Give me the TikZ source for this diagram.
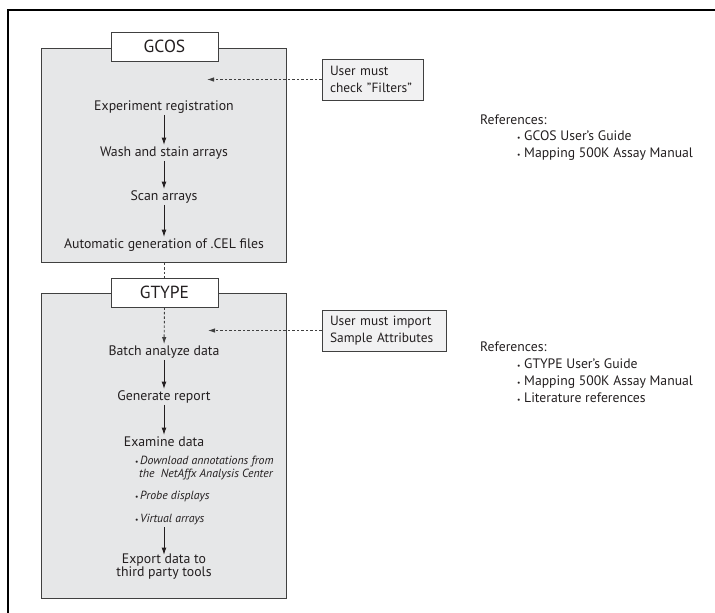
\documentclass[tikz,border=0pt]{standalone}
\usepackage{fontspec}
\setmainfont{PT Sans}
\usetikzlibrary{arrows.meta}
\definecolor{boxgray}{HTML}{E6E7E8}
\definecolor{notegray}{HTML}{F1F1F2}
\definecolor{edgegray}{HTML}{404040}
\definecolor{ink}{HTML}{231F20}
\begin{document}
\begin{tikzpicture}[x=1pt,y=-1pt,
  panel/.style={draw=edgegray, fill=boxgray, line width=0.9pt, anchor=north west, inner sep=0pt},
  tabbox/.style={draw=edgegray, fill=white, line width=0.9pt, minimum width=107pt, minimum height=29pt, inner sep=0pt, font=\fontsize{17.5}{19}\selectfont, text=ink},
  notebox/.style={draw=edgegray, fill=notegray, line width=0.9pt, minimum height=41pt, inner xsep=8pt, inner ysep=0pt, align=left, font=\fontsize{13.4}{17}\selectfont, text=ink},
  steptext/.style={font=\fontsize{13.8}{13.5}\selectfont, text=ink, inner xsep=0pt, inner ysep=1.5pt, text height=9.5pt, text depth=3pt, align=center},
  itext/.style={font=\fontsize{11.8}{12}\selectfont\itshape, text=ink, inner sep=0pt, anchor=base west},
  reftext/.style={font=\fontsize{13.7}{14}\selectfont, text=ink, inner sep=0pt, anchor=base west},
  bul/.style={font=\fontsize{7.5}{8}\selectfont, text=ink, inner sep=0pt, anchor=base west},
  flow/.style={-{Latex[length=7.5pt,width=5pt]}, line width=1pt, draw=ink},
  dashlink/.style={line width=0.9pt, draw=edgegray, dash pattern=on 2.5pt off 2pt},
  dasharrow/.style={dashlink, -{Latex[length=7pt,width=4.5pt]}}
]
\useasboundingbox (0,0) rectangle (715,613);
% outer frame
\coordinate (frameBL) at (8,613);
\coordinate (frameTL) at (8,10);
\coordinate (frameTR) at (715,10);
\draw[line width=2pt, draw=black] (frameBL) -- (frameTL) -- (frameTR);

% GCOS panel
\node[panel, minimum width=245pt, minimum height=214pt] (gcosbox) at (41,48) {};
\node[tabbox] (gcoslabel) at (164.5,46.5) {GCOS};
\node[steptext] (exp) at (164,107) {Experiment registration};
\node[steptext] (wash) at (164,153) {Wash and stain arrays};
\node[steptext] (scan) at (164,197) {Scan arrays};
\node[steptext] (autogen) at (164,245) {Automatic generation of .CEL files};
\draw[flow] (exp) -- (wash);
\draw[flow] (wash) -- (scan);
\draw[flow] (scan) -- (autogen);

\node[notebox, text width=85pt] (note1) at (372.5,79.5) {User must\\check "Filters"};
\coordinate (gcosin) at (207,79.5);
\draw[dasharrow] (note1.west) -- (gcosin);

\node[reftext] (ref1) at (480,124) {References:};
\node[bul] (r1b1) at (517,140) {•};
\node[reftext] (r1t1) at (524,140) {GCOS User's Guide};
\node[bul] (r1b2) at (517,157) {•};
\node[reftext] (r1t2) at (524,157) {Mapping 500K Assay Manual};

% GTYPE panel
\node[panel, minimum width=245pt, minimum height=305pt] (gtypebox) at (41,293) {};
\node[tabbox] (gtypelabel) at (164.5,292.5) {GTYPE};
\draw[dashlink] (gcosbox.south) -- (gcosbox.south |- gtypelabel.north);

\node[steptext] (batch) at (164,352) {Batch analyze data};
\node[steptext] (report) at (164,397) {Generate report};
\node[steptext] (exam) at (164,443) {Examine data};
\node[bul] (g1b1) at (135,464.5) {•};
\node[itext] (g1t1) at (140,464.5) {Download annotations from};
\node[itext] (g1t1b) at (139,477) {the\ \ NetAffx Analysis Center};
\node[bul] (g1b2) at (135,499.5) {•};
\node[itext] (g1t2) at (140,499.5) {Probe displays};
\node[bul] (g1b3) at (135,522.5) {•};
\node[itext] (g1t3) at (140,522.5) {Virtual arrays};
\node[steptext, text height=9.5pt, text depth=16.5pt] (export) at (164,580) {Export data to\\third party tools};
\coordinate (virtbottom) at (164,527);
\coordinate (exporttop) at (164,555);
\draw[dasharrow] (gtypelabel.south) -- (batch);
\draw[flow] (batch) -- (report);
\draw[flow] (report) -- (exam);
\draw[flow] (virtbottom) -- (exporttop);

\node[notebox, text width=108pt] (note2) at (384,330.5) {User must import\\Sample Attributes};
\coordinate (gtypein) at (208,330.5);
\draw[dasharrow] (note2.west) -- (gtypein);

\node[reftext] (ref2) at (480,351) {References:};
\node[bul] (r2b1) at (517,368) {•};
\node[reftext] (r2t1) at (524,368) {GTYPE User's Guide};
\node[bul] (r2b2) at (517,385) {•};
\node[reftext] (r2t2) at (524,385) {Mapping 500K Assay Manual};
\node[bul] (r2b3) at (517,402) {•};
\node[reftext] (r2t3) at (524,402) {Literature references};
\end{tikzpicture}
\end{document}
